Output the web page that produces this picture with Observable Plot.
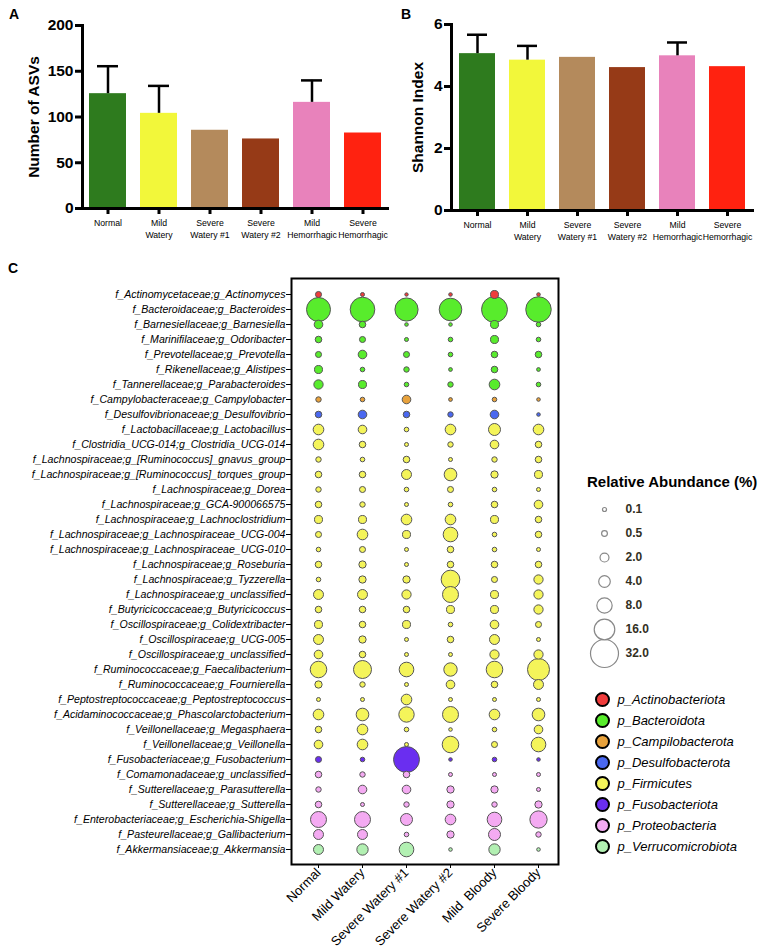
<!DOCTYPE html>
<html><head><meta charset="utf-8">
<script src="https://cdn.jsdelivr.net/npm/d3@7"></script>
<script src="https://cdn.jsdelivr.net/npm/@observablehq/plot@0.6"></script>
<style>
body{margin:0;background:#fff;font-family:"Liberation Sans",Arial,sans-serif;}
#root{position:relative;width:767px;height:952px;overflow:hidden;background:#fff;}
#root svg{position:absolute;margin:0;overflow:visible;}
.lbl{position:absolute;font-weight:bold;line-height:1;color:#000;white-space:nowrap;}
</style></head><body><div id="root">
<div class="lbl" style="left:9px;top:7px;font-size:14px;">A</div>
<div class="lbl" style="left:401px;top:7px;font-size:14px;">B</div>
<div class="lbl" style="left:8px;top:261px;font-size:14px;">C</div>
<div class="lbl" style="left:587px;top:474px;font-size:15px;">Relative Abundance (%)</div>
</div>
<script>
// ---------- Panels A & B ----------
const groupsAB = ["Normal","Mild Watery","Severe Watery #1","Severe Watery #2","Mild Hemorrhagic","Severe Hemorrhagic"];
const tickLabelsAB = ["Normal","Mild\nWatery","Severe\nWatery #1","Severe\nWatery #2","Mild\nHemorrhagic","Severe\nHemorrhagic"];
const barColors = ["#2e7b1e","#f2f73a","#b48a5c","#963a17","#e882bb","#ff2210"];
const asvMean = [125.5,104,85.5,76,116,82.5];
const asvUpper = [155.5,134,null,null,140,null];
const asvTicks = [0,50,100,150,200];
const shannonMean = [5.06,4.85,4.94,4.61,4.99,4.64];
const shannonUpper = [5.67,5.31,null,null,5.42,null];
const shannonTicks = [0,2,4,6];

// ---------- Panel C ----------
const groupsC = ["Normal","Mild Watery","Severe Watery #1","Severe Watery #2","Mild  Bloody","Severe Bloody"];
const taxa = [
"f_Actinomycetaceae;g_Actinomyces","f_Bacteroidaceae;g_Bacteroides","f_Barnesiellaceae;g_Barnesiella",
"f_Marinifilaceae;g_Odoribacter","f_Prevotellaceae;g_Prevotella","f_Rikenellaceae;g_Alistipes",
"f_Tannerellaceae;g_Parabacteroides","f_Campylobacteraceae;g_Campylobacter","f_Desulfovibrionaceae;g_Desulfovibrio",
"f_Lactobacillaceae;g_Lactobacillus","f_Clostridia_UCG-014;g_Clostridia_UCG-014","f_Lachnospiraceae;g_[Ruminococcus]_gnavus_group",
"f_Lachnospiraceae;g_[Ruminococcus]_torques_group","f_Lachnospiraceae;g_Dorea","f_Lachnospiraceae;g_GCA-900066575",
"f_Lachnospiraceae;g_Lachnoclostridium","f_Lachnospiraceae;g_Lachnospiraceae_UCG-004","f_Lachnospiraceae;g_Lachnospiraceae_UCG-010",
"f_Lachnospiraceae;g_Roseburia","f_Lachnospiraceae;g_Tyzzerella","f_Lachnospiraceae;g_unclassified",
"f_Butyricicoccaceae;g_Butyricicoccus","f_Oscillospiraceae;g_Colidextribacter","f_Oscillospiraceae;g_UCG-005",
"f_Oscillospiraceae;g_unclassified","f_Ruminococcaceae;g_Faecalibacterium","f_Ruminococcaceae;g_Fournierella",
"f_Peptostreptococcaceae;g_Peptostreptococcus","f_Acidaminococcaceae;g_Phascolarctobacterium","f_Veillonellaceae;g_Megasphaera",
"f_Veillonellaceae;g_Veillonella","f_Fusobacteriaceae;g_Fusobacterium","f_Comamonadaceae;g_unclassified",
"f_Sutterellaceae;g_Parasutterella","f_Sutterellaceae;g_Sutterella","f_Enterobacteriaceae;g_Escherichia-Shigella",
"f_Pasteurellaceae;g_Gallibacterium","f_Akkermansiaceae;g_Akkermansia"];
const phyla = ["p_Actinobacteriota","p_Bacteroidota","p_Campilobacterota","p_Desulfobacterota","p_Firmicutes","p_Fusobacteriota","p_Proteobacteria","p_Verrucomicrobiota"];
const phylumColors = ["#f03c3c","#58ec2c","#e8a23c","#4a68f0","#f4f45a","#6a2ef0","#f4aaf2","#b2f0b2"];
const taxonPhylum = [
"p_Actinobacteriota","p_Bacteroidota","p_Bacteroidota","p_Bacteroidota","p_Bacteroidota","p_Bacteroidota","p_Bacteroidota",
"p_Campilobacterota","p_Desulfobacterota",
"p_Firmicutes","p_Firmicutes","p_Firmicutes","p_Firmicutes","p_Firmicutes","p_Firmicutes","p_Firmicutes","p_Firmicutes",
"p_Firmicutes","p_Firmicutes","p_Firmicutes","p_Firmicutes","p_Firmicutes","p_Firmicutes","p_Firmicutes","p_Firmicutes",
"p_Firmicutes","p_Firmicutes","p_Firmicutes","p_Firmicutes","p_Firmicutes","p_Firmicutes",
"p_Fusobacteriota","p_Proteobacteria","p_Proteobacteria","p_Proteobacteria","p_Proteobacteria","p_Proteobacteria",
"p_Verrucomicrobiota"];
const abNormal      = [0.6,22.7,1.8,0.8,0.6,1.45,2.25,0.4,0.8,3.2,3.2,0.4,0.8,0.4,0.8,1.45,0.6,0.2,0.8,0.2,2.7,0.8,1.45,2.7,1.8,9.7,1.1,0.1,3.2,0.8,1.8,0.6,0.8,0.4,0.8,8.9,2.7,2.7];
const abMildWatery  = [0.1,24,0.8,0.6,1.8,0.2,1.45,0.2,1.8,1.8,0.8,0.2,0.8,0.6,0.4,1.45,3.2,0.6,1.1,1.1,2.7,0.8,0.8,1.1,0.8,11.8,0.4,0.1,5,3.2,3.2,0.2,0.4,1.8,0.1,8.9,2.7,3.8];
const abSevWatery1  = [0.03,21,0.05,0.1,0.6,0.4,0.2,1.8,0.8,0.2,0.1,0.8,2.7,0.2,0.1,3.2,1.45,0.1,0.1,1.1,2.2,0.8,1.45,0.1,0.1,7.2,0.1,3.2,8.1,0.2,0.1,27,0.8,1.8,0.4,4.4,0.2,7.2];
const abSevWatery2  = [0.05,19.8,0.05,0.2,0.2,0.07,0.4,0.07,0.4,3.2,0.4,0.1,5,0.6,0.2,3.2,7.2,0.8,0.8,12.8,8.9,1.45,0.2,0.8,0.1,5.8,1.8,0.1,8.9,0.05,9.7,0.05,0.1,1.1,1.1,3.2,1.1,0.05];
const abMildBloody  = [1.45,27,1.45,1.45,0.8,0.8,3.2,0.2,1.8,4.4,1.8,0.4,1.1,0.2,0.8,1.45,0.2,0.2,0.8,0.6,1.45,1.45,1.8,2.7,2.2,9.7,0.8,0.1,3.2,0.2,0.6,0.2,0.1,1.1,0.4,7.2,4.4,3.8];
const abSevBloody   = [0.05,26,0.2,0.2,0.8,0.07,0.2,0.05,0.05,3.2,0.8,0.8,1.45,0.1,1.8,0.8,0.8,0.1,0.8,2.2,2.2,2.2,0.6,0.1,2.2,18.7,2.7,0.1,5,1.8,7.2,0.05,0.1,0.1,1.1,10.7,0.4,0.05];
const abundanceColumns = [abNormal,abMildWatery,abSevWatery1,abSevWatery2,abMildBloody,abSevBloody];
const sizeLegendValues = [0.1,0.5,2,4,8,16,32];
const sizeLegendLabels = ["0.1","0.5","2.0","4.0","8.0","16.0","32.0"];

const FONT = "Liberation Sans, Arial, Helvetica, sans-serif";
const root = document.getElementById("root");
function place(el, left, top){ el.style.left = left+"px"; el.style.top = top+"px"; root.appendChild(el); }

function barPanel(o){
  const data = groupsAB.map((g,i)=>({group:g, mean:o.mean[i], upper:o.upper[i]}));
  const err = data.filter(d=>d.upper!=null);
  return Plot.plot({
    width:o.width, height:245, marginLeft:o.ml, marginRight:o.mr, marginTop:o.mt, marginBottom:245-o.base,
    style:{fontFamily:FONT, color:"#000", background:"transparent"},
    x:{domain:groupsAB, paddingInner:0.28, paddingOuter:0.125},
    y:{domain:o.yDomain},
    color:{domain:groupsAB, range:barColors},
    marks:[
      Plot.barY(data,{x:"group", y:"mean", fill:"group"}),
      Plot.ruleX(err,{x:"group", y1:"mean", y2:"upper", stroke:"#000", strokeWidth:2.5}),
      Plot.tickY(err,{x:"group", y:"upper", stroke:"#000", strokeWidth:2.5, insetLeft:8, insetRight:8}),
      Plot.frame({anchor:"left", stroke:"#000", strokeWidth:3}),
      Plot.frame({anchor:"bottom", stroke:"#000", strokeWidth:3}),
      Plot.axisY({ticks:o.ticks, tickFormat:d=>String(d), tickSize:7, stroke:"#000", strokeWidth:3, tickPadding:2, fontSize:15.5, fontWeight:"bold",
                  label:o.label, labelAnchor:"center", labelOffset:o.labelOffset, labelArrow:"none"}),
      Plot.axisX({tickSize:6, stroke:"#000", strokeWidth:3, tickPadding:3, fontSize:8.7, lineHeight:1.35,
                  tickFormat:d=>tickLabelsAB[groupsAB.indexOf(d)], label:null})
    ]
  });
}

place(barPanel({mean:asvMean, upper:asvUpper, yDomain:[0,200], ticks:asvTicks, label:"Number of ASVs",
  width:395, ml:82, mr:8, mt:25, base:208, labelOffset:55}), 0, 0);
place(barPanel({mean:shannonMean, upper:shannonUpper, yDomain:[0,6], ticks:shannonTicks, label:"Shannon Index",
  width:382, ml:66, mr:15, mt:24, base:210, labelOffset:40}), 385, 0);

// bubble chart
const bubbles = [];
taxa.forEach((t,i)=>groupsC.forEach((g,j)=>bubbles.push({taxon:t, group:g, phylum:taxonPhylum[i], value:abundanceColumns[j][i]})));
const rScale = {type:"sqrt", domain:[0,32], range:[1.3,14]};
place(Plot.plot({
  width:565, height:682, marginLeft:291, marginRight:7, marginTop:8, marginBottom:88,
  style:{fontFamily:FONT, color:"#000", background:"transparent"},
  x:{type:"point", domain:groupsC, padding:0.53, align:0.57, label:null},
  y:{type:"point", domain:taxa, padding:0.6, label:null},
  r:rScale,
  color:{domain:phyla, range:phylumColors},
  marks:[
    Plot.dot(bubbles,{x:"group", y:"taxon", r:"value", fill:"phylum", stroke:"#555", strokeWidth:1}),
    Plot.frame({stroke:"#000", strokeWidth:2}),
    Plot.axisY({tickSize:5, tickPadding:1, fontSize:10.6, fontStyle:"italic", label:null}),
    Plot.axisX({tickSize:4, tickPadding:2, tickRotate:-45, fontSize:13, label:null})
  ]
}), 0, 270);

// size legend
const sizeData = sizeLegendValues.map((v,i)=>({v, label:sizeLegendLabels[i]}));
place(Plot.plot({
  width:197, height:170, marginLeft:22, marginRight:151, marginTop:13, marginBottom:12,
  style:{fontFamily:FONT, background:"transparent"},
  y:{type:"point", domain:sizeLegendLabels, padding:0, axis:null},
  r:rScale,
  marks:[
    Plot.dot(sizeData,{y:"label", r:"v", fill:"#fff", stroke:"#888", strokeWidth:1.2}),
    Plot.text(sizeData,{y:"label", text:"label", dx:21, textAnchor:"start", fontSize:12, fontWeight:"bold", fill:"#33301f"})
  ]
}), 570, 495);

// colour legend
place(Plot.plot({
  width:197, height:175, marginLeft:22, marginRight:155, marginTop:12, marginBottom:12,
  style:{fontFamily:FONT, background:"transparent"},
  y:{type:"point", domain:phyla, padding:0, axis:null},
  color:{domain:phyla, range:phylumColors},
  marks:[
    Plot.dot(phyla,{y:d=>d, r:6.5, fill:d=>d, stroke:"#000", strokeWidth:2}),
    Plot.text(phyla,{y:d=>d, text:d=>d, dx:15, textAnchor:"start", fontSize:13, fontStyle:"italic", fill:"#000"})
  ]
}), 570, 685);
</script></body></html>
